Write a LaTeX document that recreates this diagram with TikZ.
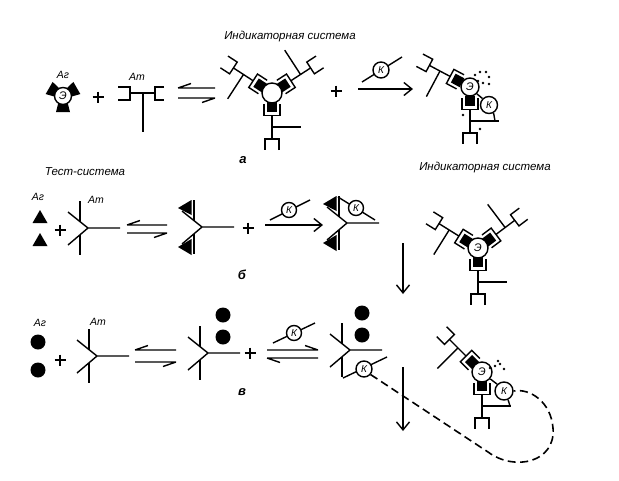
\documentclass[tikz,border=0pt]{standalone}
\usepackage{fontspec}
\setmainfont{Liberation Sans}
\usetikzlibrary{arrows.meta}
\tikzset{
  ln/.style={line width=1.4pt},
  lbl/.style={font=\itshape\fontsize{11.5}{11.5}\selectfont, inner sep=0pt},
  sml/.style={font=\itshape\fontsize{10.5}{10.5}\selectfont, inner sep=0pt},
  sub/.style={font=\itshape\bfseries\fontsize{13}{13}\selectfont, inner sep=0pt},
  enz/.style={circle, draw, line width=1.4pt, fill=white, minimum size=20pt, inner sep=0pt, font=\itshape\fontsize{11}{11}\selectfont},
  kc/.style={circle, draw, line width=1.4pt, fill=white, minimum size=16pt, inner sep=0pt, font=\itshape\fontsize{10}{10}\selectfont},
  blk/.style={circle, fill=black, minimum size=15pt, inner sep=0pt},
  spot/.style={circle, fill=black, minimum size=2.8pt, inner sep=0pt},
  arr/.style={line width=1.4pt, -{Straight Barb[length=8pt,width=13pt,line width=1.4pt]}},
  dsh/.style={line width=1.6pt, dash pattern=on 8pt off 4.5pt},
}
% antibody arm bound to an enzyme determinant; origin = enzyme centre
\newcommand{\armab}[3]{%
  \begin{scope}[shift={(#1,#2)}, rotate=#3]
    \fill (9,-5) rectangle (19,5);
    \draw[ln] (11,-8) -- (22.5,-8) -- (22.5,8) -- (11,8);
    \draw[ln] (22.5,0) -- (46,0);
    \draw[ln] (57,-7) -- (46,-7) -- (46,7) -- (57,7);
    \draw[ln] (34,0) -- (34,-29);
  \end{scope}}
% Y-shaped antibody, origin = junction
\newcommand{\yab}[2]{%
  \begin{scope}[shift={(#1,#2)}]
    \draw[ln] (32,0) -- (0,0) -- (-20,-16);
    \draw[ln] (0,0) -- (-20,17);
    \draw[ln] (-8,-6.4) -- (-8,-27);
    \draw[ln] (-8,6.8) -- (-8,27);
  \end{scope}}
% bound triangles in the notches of a Y antibody
\newcommand{\ytri}[2]{%
  \begin{scope}[shift={(#1,#2)}]
    \fill (-24,-19) -- (-10.5,-27) -- (-10.5,-12) -- cycle;
    \fill (-24,20) -- (-10.5,12) -- (-10.5,28) -- cycle;
  \end{scope}}
\newcommand{\plussign}[2]{%
  \draw[ln] (#1-5.5,#2) -- (#1+5.5,#2) (#1,#2-5.5) -- (#1,#2+5.5);}
% equilibrium: upper to the left, lower to the right
\newcommand{\eqlr}[4]{% x1 x2 ytop ybottom
  \draw[ln] (#1,#3) -- (#2,#3) (#1,#3) -- (#1+13,#3-4.5);
  \draw[ln] (#1,#4) -- (#2,#4) (#2,#4) -- (#2-13,#4+4.5);}
% equilibrium: upper to the right, lower to the left
\newcommand{\eqrl}[4]{%
  \draw[ln] (#1,#3) -- (#2,#3) (#2,#3) -- (#2-13,#3-4.5);
  \draw[ln] (#1,#4) -- (#2,#4) (#1,#4) -- (#1+13,#4+4.5);}
\begin{document}
\begin{tikzpicture}[x=1pt,y=-1pt]
\useasboundingbox (0,0) rectangle (619,480);

% ================= row a =================
\node[sml] (agA) at (63,75) {Аг};
\begin{scope}[shift={(63,96)}]
  \foreach \a in {150,30,270}
    \fill[rotate=\a] (6,-4.5) -- (16,-7) -- (16,7) -- (6,4.5) -- cycle;
\end{scope}
\node[enz, minimum size=17pt] (eA) at (63,96) {Э};
\plussign{98}{97}
\node[sml] (atA) at (137,77) {Ат};
\draw[ln] (118,87) -- (130,87) -- (130,100) -- (118,100);
\draw[ln] (130,93) -- (155,93);
\draw[ln] (164,87) -- (155,87) -- (155,100) -- (164,100);
\draw[ln] (143,93) -- (143,132);
\eqlr{178}{215}{88}{98}
\node[lbl] (indA) at (290,37) {Индикаторная система};
\armab{272}{93}{147}
\armab{272}{93}{33}
\armab{272}{93}{270}
\node[enz] (e1) at (272,93) {};
\node[sub] (la) at (243,160) {а};
\plussign{336}{91}
\coordinate (kA1) at (362,82);
\coordinate (kA2) at (402,57);
\draw[ln] (kA1) -- (kA2);
\node[kc] (kA) at (381,70) {К};
\coordinate (arA1) at (358,89);
\coordinate (arA2) at (413,89);
\draw[arr] (arA1) -- (arA2);
% product a
\armab{470}{87}{152}
\armab{470}{87}{270}
\node[enz, minimum size=18pt] (e2) at (470,87) {Э};
\node[kc, minimum size=17pt] (k2) at (489,105) {К};
\draw[ln] (e2.-45) -- (k2.north west);
\draw[ln] (k2.-60) -- (495,121);
\foreach \p in {(475,75),(480,72),(486,72),(489,77),(478,81),(483,83),(489,84),(463,115),(480,129)}
  \node[spot] at \p {};

% ================= row b =================
\node[lbl] (test) at (85,172) {Тест-система};
\node[sml] (agB) at (38,197) {Аг};
\node[sml] (atB) at (96,200) {Ат};
\fill (32.5,223) -- (47.5,223) -- (40,210) -- cycle;
\fill (32.5,246) -- (47.5,246) -- (40,233) -- cycle;
\plussign{60}{230}
\yab{88}{228}
\eqlr{127}{167}{225}{233}
\yab{202}{227}
\ytri{202}{227}
\plussign{248}{228}
\coordinate (kB1) at (270,220);
\coordinate (kB2) at (310,200);
\draw[ln] (kB1) -- (kB2);
\node[kc, minimum size=15pt] (kB) at (289,210) {К};
\coordinate (arB1) at (265,225);
\coordinate (arB2) at (323,225);
\draw[arr] (arB1) -- (arB2);
\node[sub] (lb) at (242,275) {б};
\yab{347}{223}
\ytri{347}{223}
\coordinate (kB3a) at (338,197);
\coordinate (kB3b) at (375,220);
\draw[ln] (kB3a) -- (kB3b);
\node[kc, minimum size=15pt] (kB3) at (356,208) {К};
% indicator system (middle right)
\node[lbl] (indB) at (485,168) {Индикаторная система};
\armab{478}{248}{148}
\armab{478}{248}{37}
\armab{478}{248}{270}
\node[enz] (e3) at (478,248) {Э};
\coordinate (dA1) at (403,243);
\coordinate (dA2) at (403,294);
\draw[arr] (dA1) -- (dA2);

% ================= row v =================
\node[sml] (agC) at (40,323) {Аг};
\node[sml] (atC) at (98,322) {Ат};
\node[blk] (c1) at (38,342) {};
\node[blk] (c2) at (38,370) {};
\plussign{60}{360}
\yab{97}{356}
\eqlr{135}{176}{350}{362}
\yab{208}{353}
\node[blk] (c3) at (223,315) {};
\node[blk] (c4) at (223,337) {};
\plussign{250}{353}
\coordinate (kC1) at (273,343);
\coordinate (kC2) at (315,323);
\draw[ln] (kC1) -- (kC2);
\node[kc, minimum size=15pt] (kC) at (294,333) {К};
\eqrl{267}{318}{350}{358}
\node[sub] (lv) at (242,392) {в};
\yab{350}{350}
\node[blk] (c5) at (362,313) {};
\node[blk] (c6) at (362,335) {};
\coordinate (kC3a) at (343,378);
\coordinate (kC3b) at (387,357);
\draw[ln] (kC3a) -- (kC3b);
\node[kc] (kC3) at (364,369) {К};
\coordinate (dB1) at (403,367);
\coordinate (dB2) at (403,431);
\draw[arr] (dB1) -- (dB2);
% product v
\armab{482}{372}{135}
\armab{482}{372}{270}
\node[enz] (e4) at (482,372) {Э};
\node[kc, minimum size=18pt] (k4) at (504,391) {К};
\draw[ln] (e4.-40) -- (k4.north west);
\draw[ln] (k4.-65) -- (510,406);
\foreach \p in {(490,368),(495,366),(500,364),(504,369),(498,361)}
  \node[spot] at \p {};
% dashed loop
\draw[dsh] (kC3.-40) -- (488,452) .. controls (515,472) and (556,462) .. (553,428)
  .. controls (551,402) and (530,388) .. (k4.east);
\end{tikzpicture}
\end{document}
